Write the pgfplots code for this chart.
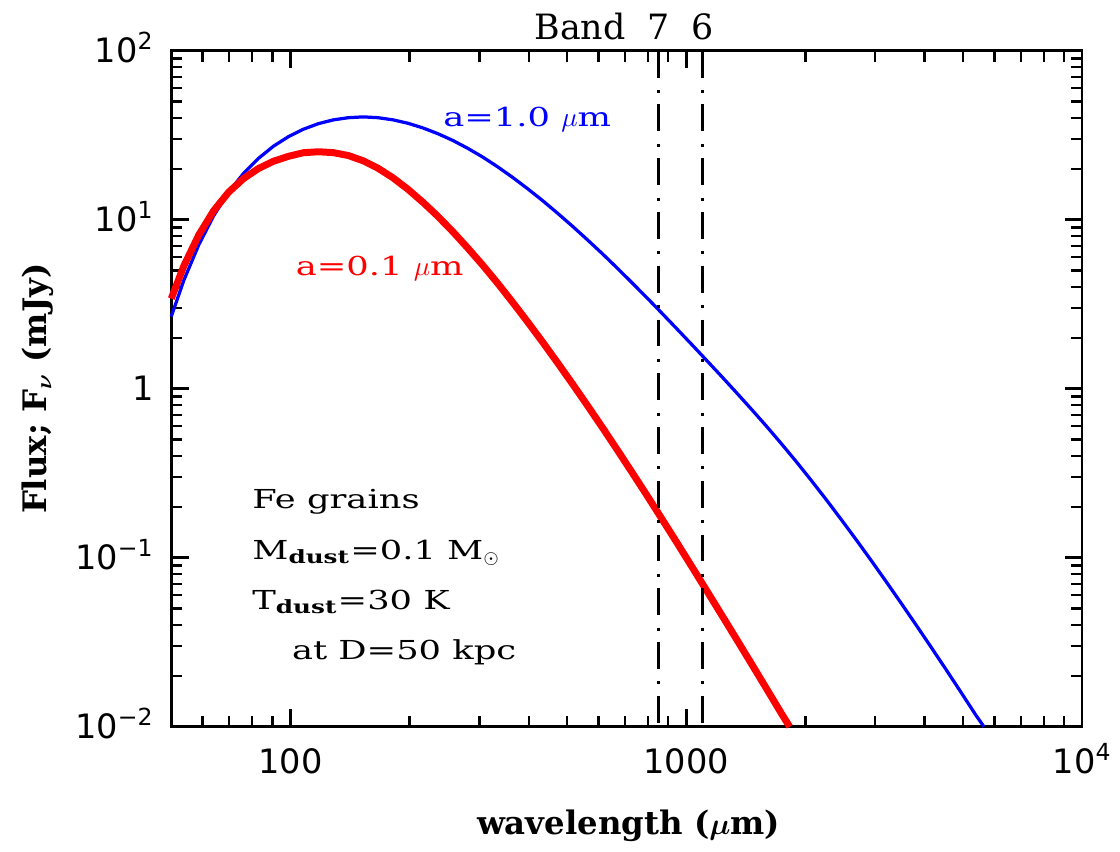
\documentclass[border=0pt]{standalone}
\usepackage{fontspec}
\setmainfont{DejaVu Serif}
\setsansfont{DejaVu Sans}
\newfontfamily\widefont{DejaVu Serif}[FakeStretch=1.35]
\usepackage{pgfplots}
\usepackage{pgfplotstable}
\pgfplotsset{compat=1.18}

\tikzset{
  note/.style={anchor=base west, inner sep=0pt, font=\widefont\fontsize{10.5}{12}\selectfont},
  band/.style={inner sep=0pt, yshift=4.4pt, font=\fontsize{14}{16}\selectfont},
}

% flux of Fe grains (mJy) against wavelength (micron)
\pgfplotstableread{
lam    flux
50     2.674
53.79  4.381
58.67  7.101
64.01  10.565
69.81  14.553
76.14  18.80
83.07  23.08
90.62  27.23
98.85  31.01
107.8  34.29
117.6  37.01
128.3  38.96
140.0  40.14
152.7  40.58
166.5  40.14
181.7  38.96
198.2  37.20
216.2  34.90
235.9  32.26
257.3  29.42
280.6  26.43
306.1  23.46
333.9  20.54
364.2  17.79
397.2  15.26
433.4  12.97
472.7  10.93
515.6  9.150
562.4  7.608
613.6  6.292
669.2  5.169
730.0  4.224
796.3  3.441
868.6  2.789
947.5  2.254
1033.6 1.819
1127.3 1.464
1229.8 1.177
1341.4 0.942
1463.3 0.752
1596.1 0.5973
1741.1 0.4705
1899.3 0.3680
2071.8 0.2851
2260.0 0.2195
2465.3 0.1675
2689.2 0.1272
2933.6 0.09595
3200.0 0.07197
3490.7 0.05370
3807.8 0.03990
4153.6 0.02953
4531.0 0.02176
4942.5 0.01596
5391.5 0.01167
5646   0.0100
}\bigdata

\pgfplotstableread{
lam    flux
50     3.413
53.79  5.325
58.67  8.121
64.01  11.32
69.81  14.55
76.14  17.52
83.07  20.10
90.62  22.18
98.85  23.71
107.8  24.90
117.6  25.24
128.3  24.93
140.0  23.97
152.7  22.31
166.5  20.15
181.7  17.67
198.2  15.12
216.2  12.67
235.9  10.45
257.3  8.481
280.6  6.788
306.1  5.376
333.9  4.201
364.2  3.245
397.2  2.488
433.4  1.889
472.7  1.425
515.6  1.069
562.4  0.7963
613.6  0.5900
669.2  0.4347
730.0  0.3187
796.3  0.2327
868.6  0.1689
947.5  0.1223
1033.6 0.08820
1127.3 0.06351
1229.8 0.04562
1341.4 0.03272
1463.3 0.02341
1596.1 0.01672
1741.1 0.01191
1824   0.0100
}\smalldata

\begin{document}
\begin{tikzpicture}
\begin{axis}[
  scale only axis,
  width=366pt, height=271.6pt,
  xmode=log, ymode=log,
  xmin=50, xmax=10000,
  ymin=0.01, ymax=100,
  clip=false,
  axis line style={line width=1pt},
  every tick/.style={black, line width=1pt},
  tick align=inside,
  major tick length=7pt,
  minor tick length=4.5pt,
  xtick={100,1000,10000},
  xticklabels={100,1000,10\textsuperscript{4}},
  minor xtick={60,70,80,90,200,300,400,500,600,700,800,900,2000,3000,4000,5000,6000,7000,8000,9000},
  ytick={0.01,0.1,1,10,100},
  yticklabels={10\textsuperscript{−2},10\textsuperscript{−1},1,10\textsuperscript{1},10\textsuperscript{2}},
  minor ytick={0.02,0.03,0.04,0.05,0.06,0.07,0.08,0.09,0.2,0.3,0.4,0.5,0.6,0.7,0.8,0.9,2,3,4,5,6,7,8,9,20,30,40,50,60,70,80,90},
  ticklabel style={font=\sffamily\fontsize{13.5}{16}\selectfont},
  xticklabel style={anchor=base, yshift=-18.8pt},
  yticklabel style={anchor=base east, xshift=-3.5pt, yshift=-4.9pt},
  xlabel={wavelength ($\mu$m)},
  ylabel={Flux; F$_\nu$ (mJy)},
  label style={font=\bfseries\boldmath\fontsize{13}{15}\selectfont},
  xlabel style={at={(axis description cs:0.502,-0.147)}, anchor=center},
  ylabel style={at={(axis description cs:-0.146,0.5)}, anchor=center},
]
\path (axis description cs:-0.188,-0.184) rectangle (axis description cs:1.036,1.075);

\addplot[blue, line width=1.3pt, line join=round] table[x=lam, y=flux] {\bigdata};
\addplot[red, line width=2.8pt, line join=round] table[x=lam, y=flux] {\smalldata};

% ALMA bands
\addplot[black, line width=1pt, dash pattern=on 10.8pt off 5pt on 1.2pt off 4.6pt] coordinates {(850,100) (850,0.01)};
\addplot[black, line width=1pt, dash pattern=on 10.8pt off 5pt on 1.2pt off 4.6pt] coordinates {(1100,100) (1100,0.01)};

\node[band, anchor=base east] at (axis cs:705,100) {Band};
\node[band, anchor=base] at (axis cs:850,100) {7};
\node[band, anchor=base] at (axis cs:1100,100) {6};

\node[note, blue] at (axis cs:242.7,35.67) {a=1.0 $\mu$m};
\node[note, red] at (axis cs:102.9,4.66) {a=0.1 $\mu$m};

\node[note] at (rel axis cs:0.0885,0.3225) {Fe grains};
\node[note] at (rel axis cs:0.0885,0.2474) {M\textsubscript{\bfseries dust}=0.1 M$_\odot$};
\node[note] at (rel axis cs:0.0885,0.1738) {T\textsubscript{\bfseries dust}=30 K};
\node[note] at (rel axis cs:0.132,0.1001) {at D=50 kpc};
\end{axis}
\end{tikzpicture}
\end{document}
